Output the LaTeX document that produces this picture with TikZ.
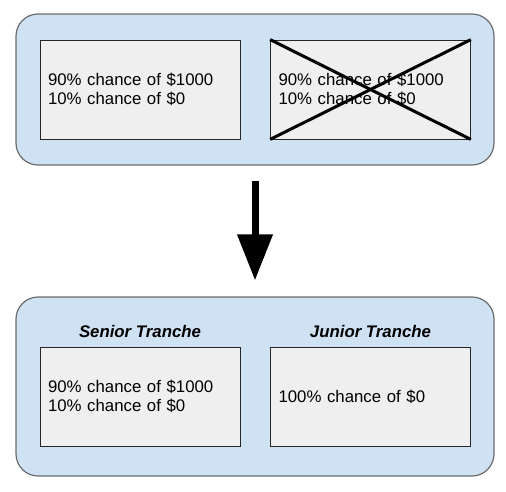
\documentclass[tikz,border=0pt]{standalone}
\usepackage{fontspec}
\setmainfont{Liberation Sans}
\usetikzlibrary{arrows.meta}
\definecolor{groupblue}{HTML}{CFE2F3}
\definecolor{boxgray}{HTML}{EFEFEF}
\definecolor{edgegray}{HTML}{6B6B6B}

\begin{document}
\begin{tikzpicture}[x=1pt,y=-1pt,
        group/.style = {draw=edgegray, fill=groupblue, line width=1.2pt, rounded corners=22pt, minimum width=478pt},
        box/.style = {draw=black!85, fill=boxgray, line width=0.8pt, minimum height=99pt, text width=184pt, inner xsep=8pt, align=left, font=\fontsize{16.8}{19.3}\selectfont},
        title/.style = {anchor=base, font=\fontsize{16.8}{19}\selectfont\bfseries\itshape},
        cross/.style = {line width=3pt},
        big/.style = {line width=7pt, -{Triangle[width=34pt,length=46pt]}}]
        \useasboundingbox (0,0) rectangle (506,491);

        \node[group, minimum height=151pt] (0) at (255,89.5) {};
        \node[box] (1) at (140,89.5) {90\% chance of \$1000\\10\% chance of \$0};
        \node[box] (2) at (370.5,89.5) {90\% chance of \$1000\\10\% chance of \$0};

        \draw[cross] (2.north west) -- (2.south east);
        \draw[cross] (2.south west) -- (2.north east);

        \node[group, minimum height=179pt] (3) at (255,386.5) {};
        \node[title] (6) at (140,337.5) {Senior Tranche};
        \node[title] (7) at (370.5,337.5) {Junior Tranche};
        \node[box] (4) at (140,396.5) {90\% chance of \$1000\\10\% chance of \$0};
        \node[box] (5) at (370.5,396.5) {100\% chance of \$0};

        \draw[big, shorten <=15pt, shorten >=16pt] (0) -- (3);
\end{tikzpicture}
\end{document}
